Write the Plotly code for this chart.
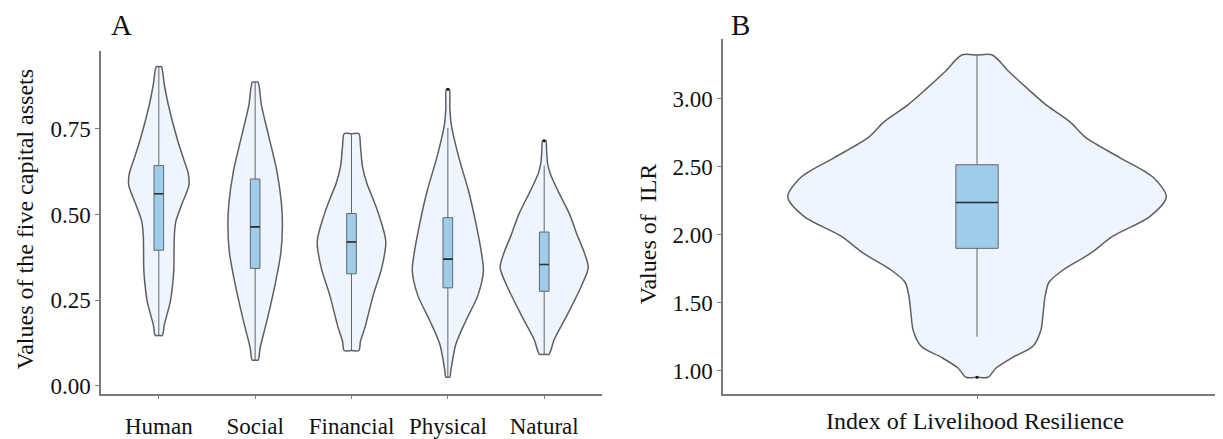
import plotly.graph_objects as go

# ---------------- data ----------------
assets = ["Human", "Social", "Financial", "Physical", "Natural"]

# violin outlines: value levels and half-widths (category units)
human_v = [0.147, 0.178, 0.245, 0.30, 0.34, 0.437, 0.48, 0.53, 0.585, 0.62, 0.66, 0.72, 0.82, 0.88, 0.932]
human_w = [0.036, 0.057, 0.119, 0.145, 0.156, 0.161, 0.177, 0.239, 0.312, 0.306, 0.260, 0.192, 0.099, 0.057, 0.026]

social_v = [0.075, 0.111, 0.197, 0.293, 0.389, 0.466, 0.532, 0.628, 0.724, 0.82, 0.887]
social_w = [0.031, 0.052, 0.128, 0.205, 0.267, 0.283, 0.273, 0.225, 0.145, 0.065, 0.029]

financial_v = [0.103, 0.13, 0.169, 0.264, 0.342, 0.422, 0.505, 0.55, 0.59, 0.64, 0.70, 0.736]
financial_w = [0.076, 0.093, 0.138, 0.225, 0.312, 0.356, 0.277, 0.218, 0.161, 0.114, 0.093, 0.076]

physical_v = [0.025, 0.044, 0.121, 0.19, 0.264, 0.335, 0.38, 0.475, 0.571, 0.667, 0.762, 0.81, 0.866]
physical_w = [0.021, 0.031, 0.083, 0.187, 0.312, 0.369, 0.353, 0.291, 0.213, 0.114, 0.036, 0.021, 0.016]

natural_v = [0.092, 0.135, 0.21, 0.29, 0.345, 0.39, 0.44, 0.50, 0.57, 0.62, 0.648, 0.68, 0.716]
natural_w = [0.049, 0.104, 0.244, 0.384, 0.457, 0.415, 0.343, 0.265, 0.142, 0.062, 0.036, 0.026, 0.016]

# box statistics for the five capital assets
q1 = [0.396, 0.343, 0.327, 0.286, 0.276]
median = [0.561, 0.464, 0.420, 0.370, 0.354]
q3 = [0.643, 0.604, 0.503, 0.491, 0.449]
lowerfence = [0.147, 0.075, 0.103, 0.025, 0.092]
upperfence = [0.932, 0.887, 0.736, 0.753, 0.643]
outlier_cat = [4, 5]
outlier_val = [0.866, 0.716]

# Index of Livelihood Resilience
ilr_v = [0.952, 1.02, 1.10, 1.18, 1.30, 1.42, 1.55, 1.65, 1.74, 1.86, 1.988, 2.132, 2.277,
         2.421, 2.566, 2.71, 2.83, 2.951, 3.07, 3.192, 3.319]
ilr_w = [0.026, 0.045, 0.085, 0.132, 0.151, 0.156, 0.161, 0.170, 0.203, 0.267, 0.321, 0.408, 0.447,
         0.416, 0.337, 0.258, 0.219, 0.164, 0.120, 0.077, 0.036]
ilr_q1, ilr_median, ilr_q3 = 1.899, 2.236, 2.513
ilr_low, ilr_up = 1.249, 3.319
ilr_outliers = [0.952]

y_ticks_a = [0.0, 0.25, 0.5, 0.75]
y_ticks_b = [1.0, 1.5, 2.0, 2.5, 3.0]

# ---------------- style ----------------
FONT = "Liberation Serif"
V_FILL = "#EEF5FE"
V_LINE = "#5f5f5f"
B_FILL = "#9ECDEC"
B_LINE = "#666666"
MED = "#2e2e2e"
AX = "#7a7a7a"
BOX_W = 0.1

# the page body has an 8px margin, so the figure is sized to fill the rest of the window
OFF = 8
FW, FH = 1223 - OFF, 439 - OFF

RANGE_XA, RANGE_YA = [0.4, 5.6], [-0.023, 0.977]
RANGE_XB, RANGE_YB = [0.4, 1.581], [0.832, 3.433]


def px(x):
    return (x - OFF) / FW


def py(y):
    return 1 - (y - OFF) / FH


def violin_trace(center, vals, widths, xa, ya):
    xs = ([center + w for w in widths] + [center] +
          [center - w for w in reversed(widths)] + [center, center + widths[0]])
    ys = list(vals) + [vals[-1]] + list(reversed(vals)) + [vals[0], vals[0]]
    return go.Scatter(x=xs, y=ys, mode="lines", fill="toself", fillcolor=V_FILL,
                      line=dict(color=V_LINE, width=1.5, shape="spline", smoothing=0.8),
                      xaxis=xa, yaxis=ya, hoverinfo="skip", showlegend=False)


fig = go.Figure()

# violins on the base axes
profiles = [(human_v, human_w), (social_v, social_w), (financial_v, financial_w),
            (physical_v, physical_w), (natural_v, natural_w)]
for i, (v, w) in enumerate(profiles):
    fig.add_trace(violin_trace(i + 1, v, w, "x", "y"))
fig.add_trace(violin_trace(1, ilr_v, ilr_w, "x2", "y2"))

# boxes on overlay axes (drawn above the violins)
cats = list(range(1, len(assets) + 1))
fig.add_trace(go.Box(x=cats, q1=q1, median=median, q3=q3, lowerfence=lowerfence,
                     upperfence=upperfence, width=BOX_W, fillcolor=B_FILL, orientation="v",
                     line=dict(color=B_LINE, width=1), whiskerwidth=0, boxpoints=False,
                     xaxis="x3", yaxis="y3", showlegend=False, hoverinfo="skip"))

mx, my = [], []
for c, m in zip(cats, median):
    mx += [c - BOX_W / 2, c + BOX_W / 2, None]
    my += [m, m, None]
fig.add_trace(go.Scatter(x=mx, y=my, mode="lines", line=dict(color=MED, width=1.6),
                         xaxis="x3", yaxis="y3", showlegend=False, hoverinfo="skip"))
fig.add_trace(go.Scatter(x=outlier_cat, y=outlier_val, mode="markers",
                         marker=dict(color="#111", size=3), xaxis="x3", yaxis="y3",
                         showlegend=False, hoverinfo="skip"))

fig.add_trace(go.Box(x=[1], q1=[ilr_q1], median=[ilr_median], q3=[ilr_q3], lowerfence=[ilr_low],
                     upperfence=[ilr_up], width=BOX_W, fillcolor=B_FILL, orientation="v",
                     line=dict(color=B_LINE, width=1), whiskerwidth=0, boxpoints=False,
                     xaxis="x4", yaxis="y4", showlegend=False, hoverinfo="skip"))
fig.add_trace(go.Scatter(x=[1 - BOX_W / 2, 1 + BOX_W / 2], y=[ilr_median, ilr_median], mode="lines",
                         line=dict(color=MED, width=1.6), xaxis="x4", yaxis="y4",
                         showlegend=False, hoverinfo="skip"))
fig.add_trace(go.Scatter(x=[1] * len(ilr_outliers), y=ilr_outliers, mode="markers",
                         marker=dict(color="#111", size=3), xaxis="x4", yaxis="y4",
                         showlegend=False, hoverinfo="skip"))

axis_common = dict(showgrid=False, zeroline=False, showline=True, linecolor=AX, linewidth=1.5,
                   ticks="outside", ticklen=4, tickcolor=AX, tickwidth=1,
                   tickfont=dict(family=FONT, size=23, color="#111"))
hidden = dict(visible=False, showgrid=False, zeroline=False)

fig.update_layout(
    width=FW, height=FH, margin=dict(l=0, r=0, t=0, b=0),
    paper_bgcolor="white", plot_bgcolor="white", showlegend=False,
    xaxis=dict(domain=[px(101), px(602)], range=RANGE_XA, tickvals=cats, ticktext=assets,
               anchor="y", ticklabelstandoff=7, **axis_common),
    yaxis=dict(domain=[py(400), py(52)], range=RANGE_YA, tickvals=y_ticks_a,
               ticktext=[f"{t:.2f}" for t in y_ticks_a], anchor="x", **axis_common),
    xaxis2=dict(domain=[px(723), 1.0], range=RANGE_XB, tickvals=[1], ticktext=[""],
                anchor="y2", **axis_common),
    yaxis2=dict(domain=[py(400), py(40)], range=RANGE_YB, tickvals=y_ticks_b,
                ticktext=[f"{t:.2f}" for t in y_ticks_b], anchor="x2", **axis_common),
    xaxis3=dict(overlaying="x", range=RANGE_XA, anchor="y3", **hidden),
    yaxis3=dict(overlaying="y", range=RANGE_YA, anchor="x3", **hidden),
    xaxis4=dict(overlaying="x2", range=RANGE_XB, anchor="y4", **hidden),
    yaxis4=dict(overlaying="y2", range=RANGE_YB, anchor="x4", **hidden),
)


def ann(text, x, y, size, angle=0):
    fig.add_annotation(text=text, x=px(x), y=py(y), xref="paper", yref="paper",
                       showarrow=False, textangle=angle, xanchor="center", yanchor="middle",
                       font=dict(family=FONT, size=size, color="#111"))


ann("A", 121, 25, 29)
ann("B", 740, 25, 29)
ann("Values of the five capital assets", 25, 223, 24, -90)
ann("Values of  ILR", 648, 238, 24, -90)
ann("Index of Livelihood Resilience", 975, 428, 24)

fig.write_html("out.html")
